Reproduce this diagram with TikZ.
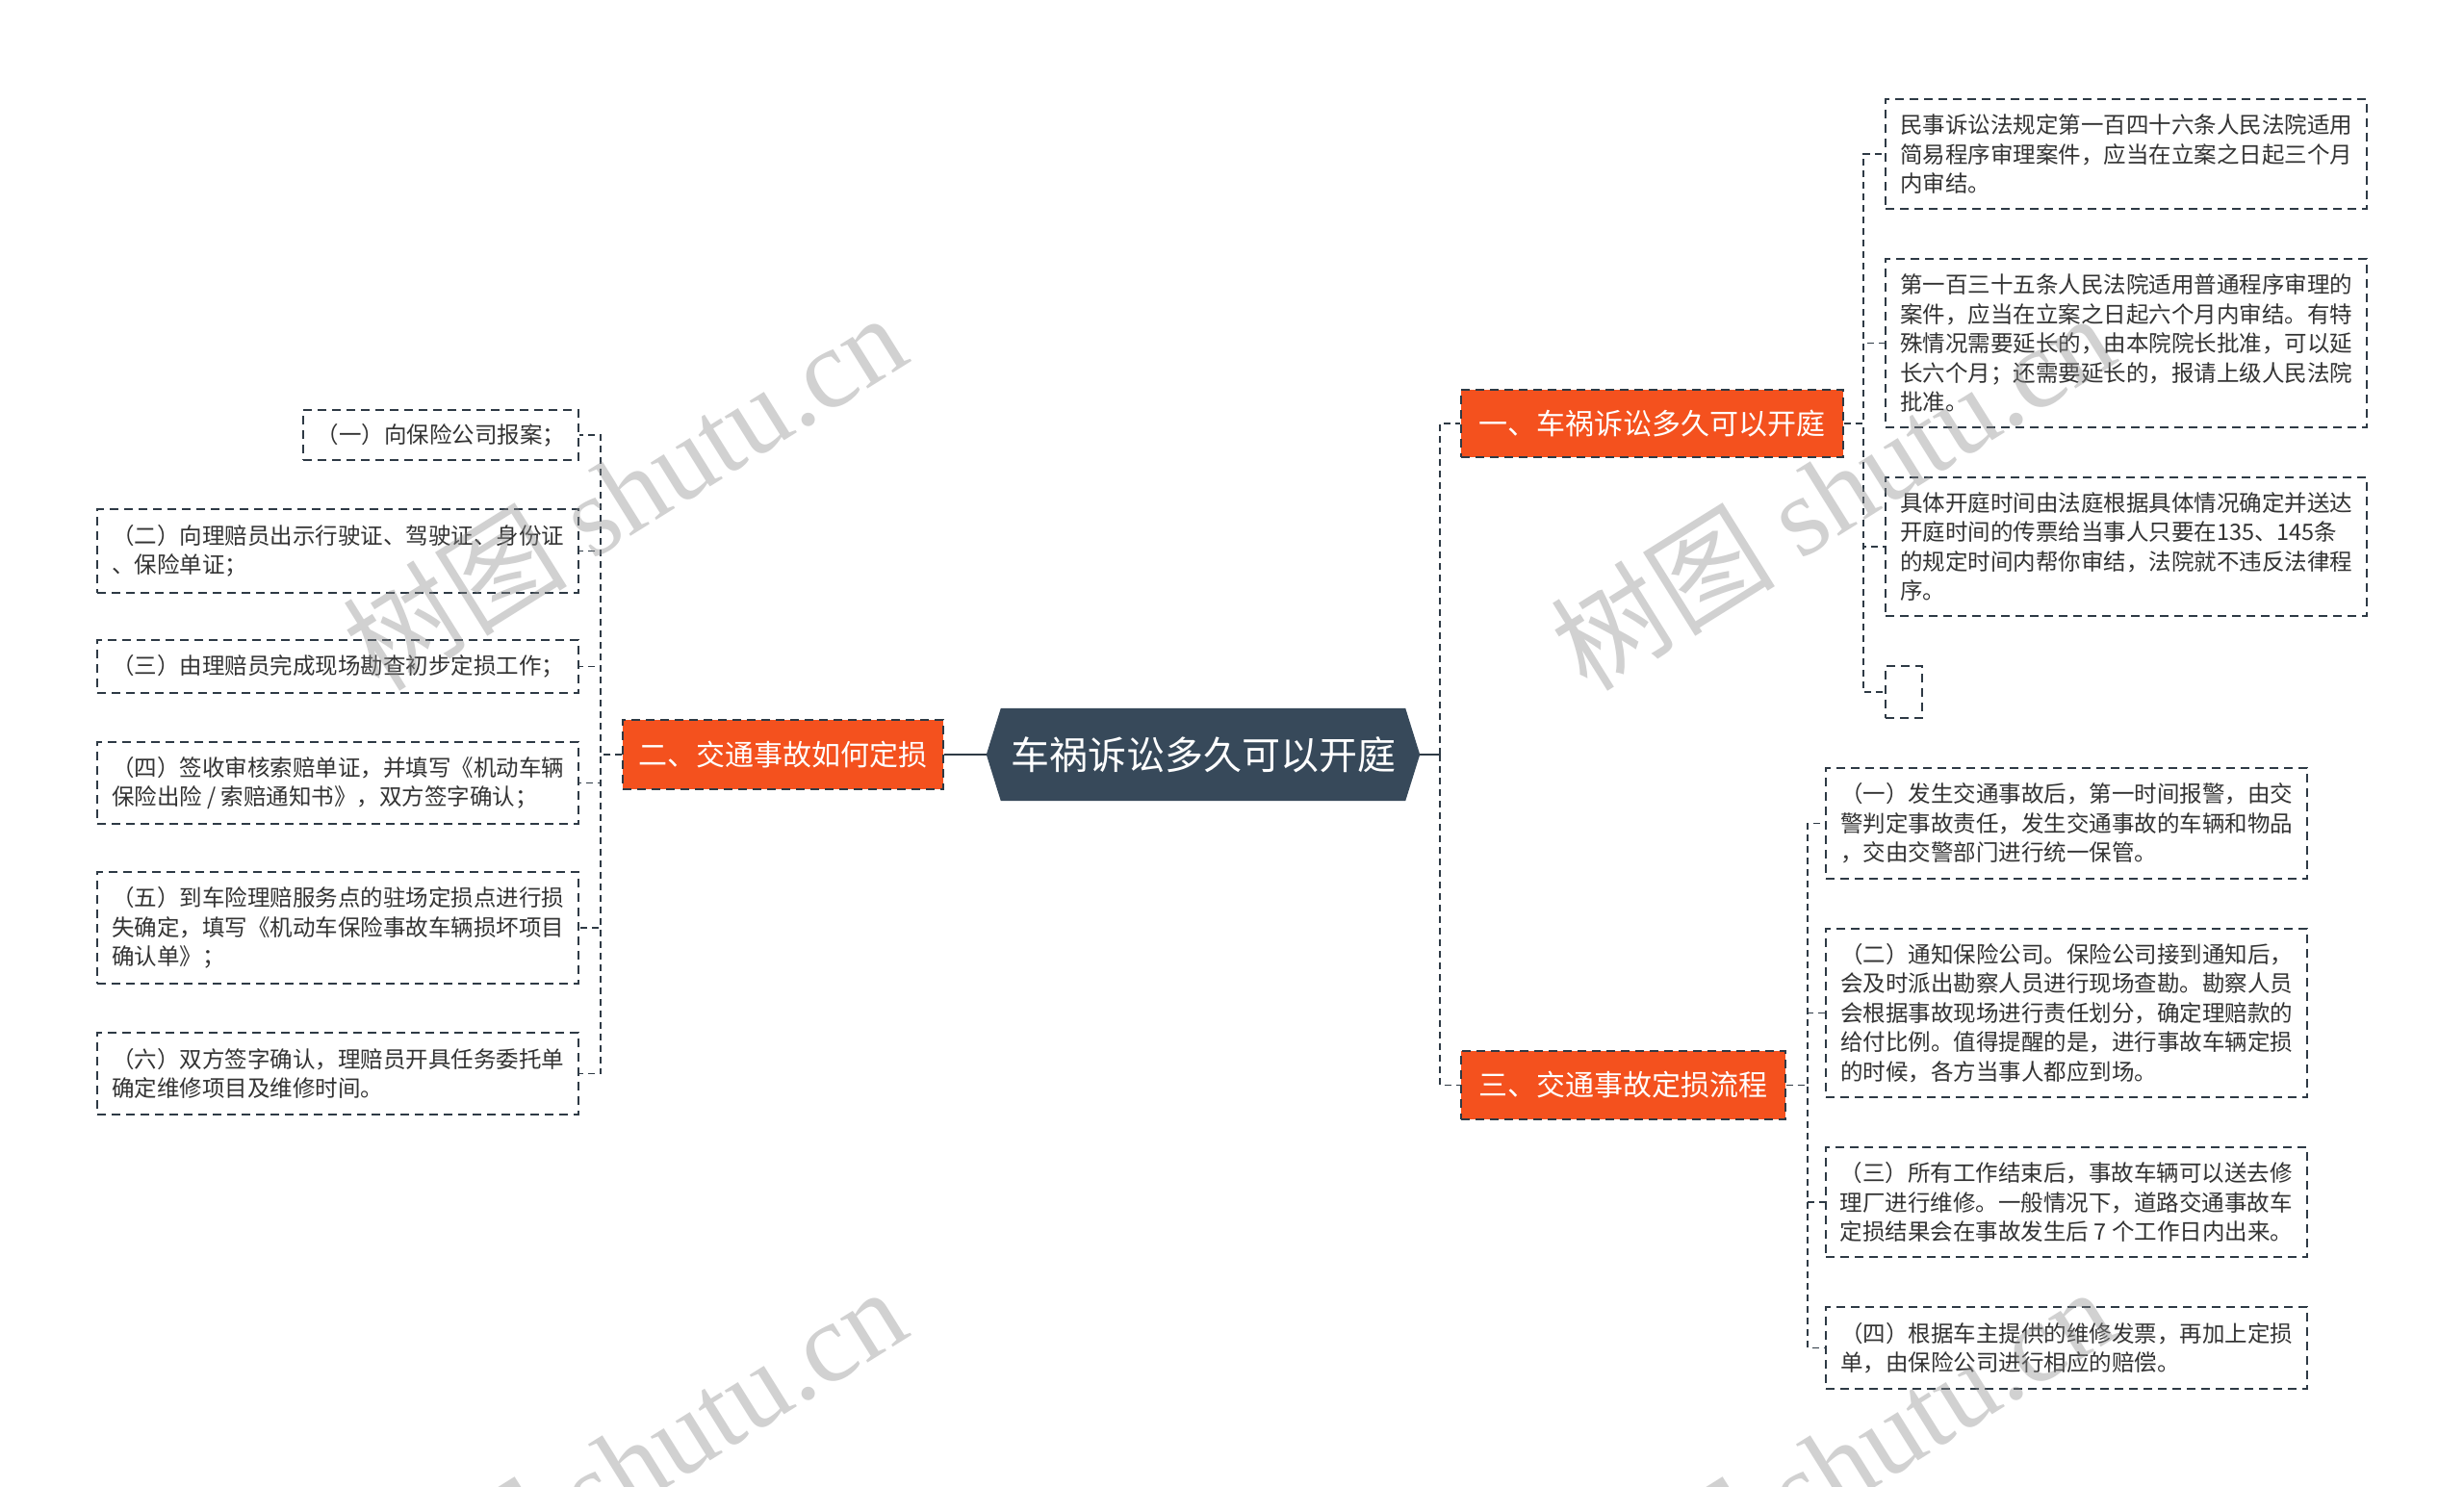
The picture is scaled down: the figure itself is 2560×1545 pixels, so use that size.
\documentclass[tikz,border=0pt]{standalone}
\usepackage{fontspec}
\setmainfont{Noto Sans CJK SC}
\newfontfamily\wmlatin{Liberation Serif}
\usetikzlibrary{backgrounds}
\definecolor{lineC}{HTML}{2E3A45}
\definecolor{orangeC}{HTML}{F4511E}
\definecolor{darkC}{HTML}{37495A}
\definecolor{textC}{HTML}{333333}
\begin{document}
\begin{tikzpicture}[x=1pt,y=-1pt,
  leaf/.style={draw=lineC, line width=1.8pt, dash pattern=on 9pt off 6pt, fill=white,
    inner sep=0pt, align=left, text=textC, font=\fontsize{23.5}{30.5}\selectfont},
  branch/.style={draw=lineC, line width=1.8pt, dash pattern=on 9pt off 6pt, fill=orangeC,
    inner sep=0pt, text=white, font=\fontsize{30}{34}\selectfont},
  rootbox/.style={inner sep=0pt, text=white, font=\fontsize{40}{46}\selectfont},
  conn/.style={draw=lineC, line width=1.8pt, dash pattern=on 7pt off 5pt},
  solidconn/.style={draw=lineC, line width=2.2pt},
  wm/.style={text=black!45, text opacity=0.4, font=\fontsize{117}{125}\selectfont, inner sep=0pt}
]
\useasboundingbox (0,0) rectangle (2560,1545);
\begin{pgfonlayer}{background}
\fill[white] (0,0) rectangle (2560,1545);
\end{pgfonlayer}

% root
\node[rootbox, minimum width=450pt, minimum height=96pt] (c) at (1250,784) {车祸诉讼多久可以开庭};
\begin{pgfonlayer}{background}
\fill[darkC] (c.west) -- ([xshift=15pt]c.north west) -- ([xshift=-15pt]c.north east) -- (c.east)
  -- ([xshift=-15pt]c.south east) -- ([xshift=15pt]c.south west) -- cycle;
\end{pgfonlayer}

% branches
\node[branch, minimum width=397pt, minimum height=70pt] (n1) at (1716.5,440) {一、车祸诉讼多久可以开庭};
\node[branch, minimum width=333pt, minimum height=72pt] (n2) at (813.5,784) {二、交通事故如何定损};
\node[branch, minimum width=337pt, minimum height=71pt] (n3) at (1686.5,1127.5) {三、交通事故定损流程};

% left leaves
\node[leaf, minimum width=286pt, minimum height=52pt] (b1) at (458,452) {（一）向保险公司报案；};
\node[leaf, minimum width=500pt, minimum height=87pt] (b2) at (351,572.5) {（二）向理赔员出示行驶证、驾驶证、身份证\\、保险单证；};
\node[leaf, minimum width=500pt, minimum height=55pt] (b3) at (351,692.5) {（三）由理赔员完成现场勘查初步定损工作；};
\node[leaf, minimum width=500pt, minimum height=85pt] (b4) at (351,813.5) {（四）签收审核索赔单证，并填写《机动车辆\\保险出险 / 索赔通知书》，双方签字确认；};
\node[leaf, minimum width=500pt, minimum height=116pt] (b5) at (351,964) {（五）到车险理赔服务点的驻场定损点进行损\\失确定，填写《机动车保险事故车辆损坏项目\\确认单》；};
\node[leaf, minimum width=500pt, minimum height=85pt] (b6) at (351,1115.5) {（六）双方签字确认，理赔员开具任务委托单\\确定维修项目及维修时间。};

% right leaves of n1
\node[leaf, minimum width=500pt, minimum height=114pt] (a1) at (2209,160) {民事诉讼法规定第一百四十六条人民法院适用\\简易程序审理案件，应当在立案之日起三个月\\内审结。};
\node[leaf, minimum width=500pt, minimum height=175pt] (a2) at (2209,356.5) {第一百三十五条人民法院适用普通程序审理的\\案件，应当在立案之日起六个月内审结。有特\\殊情况需要延长的，由本院院长批准，可以延\\长六个月；还需要延长的，报请上级人民法院\\批准。};
\node[leaf, minimum width=500pt, minimum height=144pt] (a3) at (2209,568) {具体开庭时间由法庭根据具体情况确定并送达\\开庭时间的传票给当事人只要在135、145条\\的规定时间内帮你审结，法院就不违反法律程\\序。};
\node[leaf, minimum width=38pt, minimum height=54pt] (a4) at (1978,719) {};

% right leaves of n3
\node[leaf, minimum width=500pt, minimum height=115pt] (c1) at (2147,855.5) {（一）发生交通事故后，第一时间报警，由交\\警判定事故责任，发生交通事故的车辆和物品\\，交由交警部门进行统一保管。};
\node[leaf, minimum width=500pt, minimum height=175pt] (c2) at (2147,1052.5) {（二）通知保险公司。保险公司接到通知后，\\会及时派出勘察人员进行现场查勘。勘察人员\\会根据事故现场进行责任划分，确定理赔款的\\给付比例。值得提醒的是，进行事故车辆定损\\的时候，各方当事人都应到场。};
\node[leaf, minimum width=500pt, minimum height=114pt] (c3) at (2147,1249) {（三）所有工作结束后，事故车辆可以送去修\\理厂进行维修。一般情况下，道路交通事故车\\定损结果会在事故发生后 7 个工作日内出来。};
\node[leaf, minimum width=500pt, minimum height=85pt] (c4) at (2147,1400.5) {（四）根据车主提供的维修发票，再加上定损\\单，由保险公司进行相应的赔偿。};

% bus coordinates
\coordinate (busR) at (1496,784);
\coordinate (busL) at (624,784);
\coordinate (busA) at (1936,440);
\coordinate (busC) at (1878,1127.5);

% connectors
\draw[solidconn] (c.west) -- (n2.east);
\draw[solidconn] (c.east) -- (busR);
\draw[conn] (busR) |- (n1.west);
\draw[conn] (busR) |- (n3.west);

\foreach \k in {b1,b2,b3,b4,b5,b6}{
  \draw[conn] (n2.west) -- (busL) |- (\k.east);
}
\foreach \k in {a1,a2,a3,a4}{
  \draw[conn] (n1.east) -- (busA) |- (\k.west);
}
\foreach \k in {c1,c2,c3,c4}{
  \draw[conn] (n3.east) -- (busC) |- (\k.west);
}

% watermarks
\node[wm, rotate=32] (w1) at (648,510) {树图 {\wmlatin shutu.cn}};
\node[wm, rotate=32] (w2) at (1903,510) {树图 {\wmlatin shutu.cn}};
\node[wm, rotate=32] (w3) at (648,1522) {树图 {\wmlatin shutu.cn}};
\node[wm, rotate=32] (w4) at (1903,1522) {树图 {\wmlatin shutu.cn}};
\end{tikzpicture}
\end{document}
